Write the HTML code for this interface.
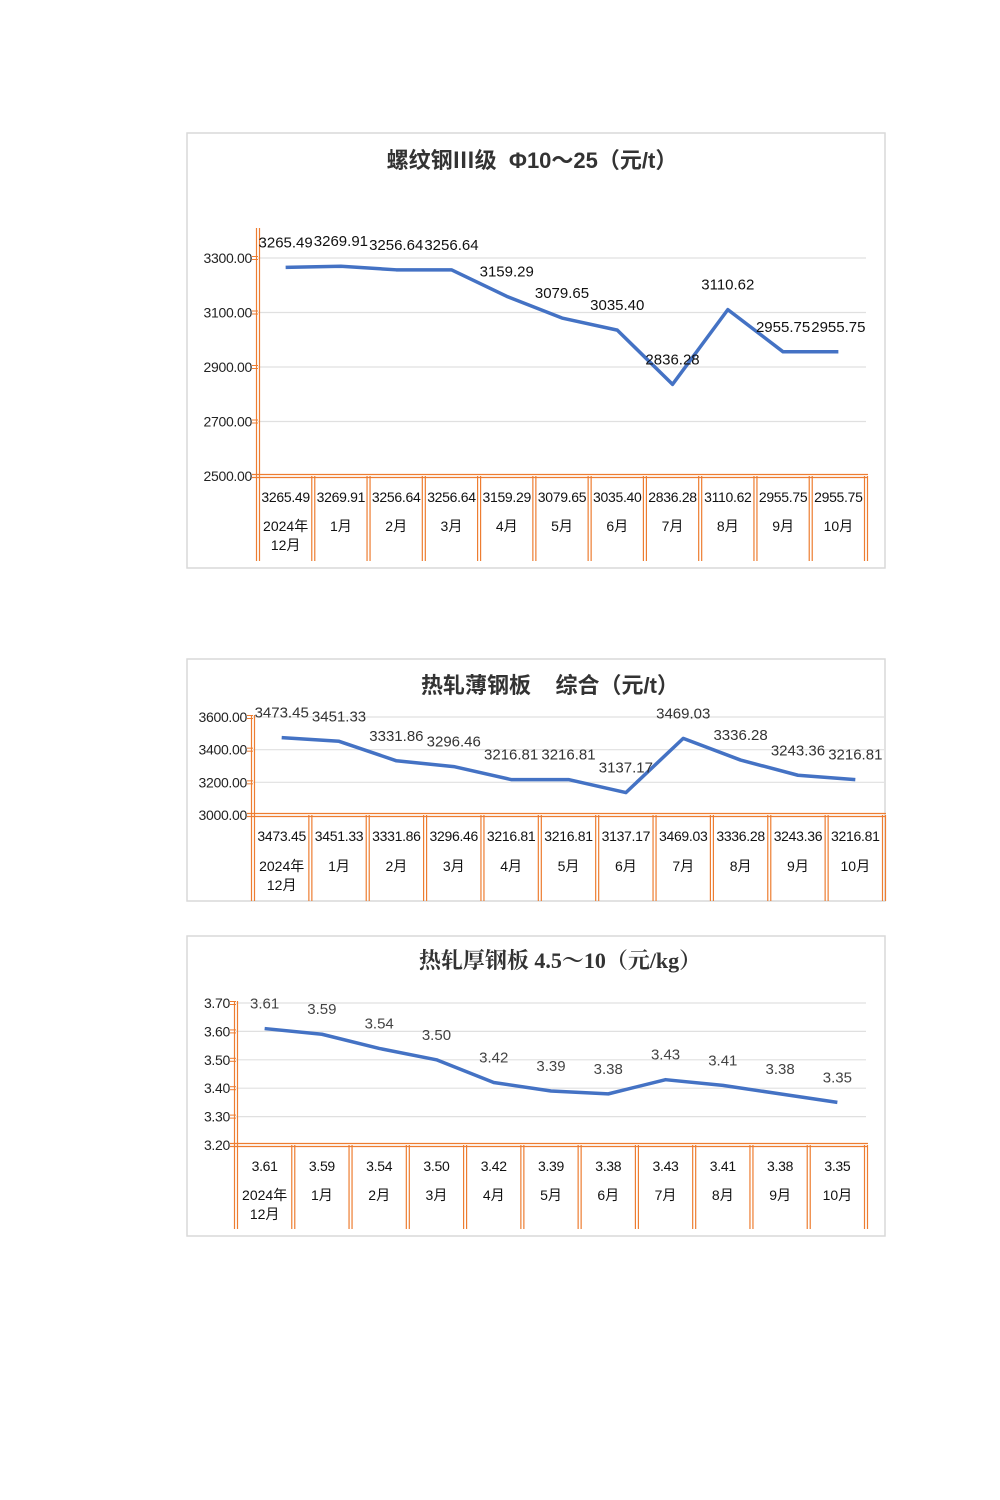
<!DOCTYPE html>
<html><head><meta charset="utf-8">
<style>
body{margin:0;background:#fff;width:1000px;height:1500px;overflow:hidden;font-family:"Liberation Sans","Noto Sans CJK SC",sans-serif;}
svg{position:absolute;left:0;top:0}
text{white-space:pre}
</style></head>
<body>
<svg id="s" width="1000" height="1500"></svg>
<script>
const categories=["2024年|12月","1月","2月","3月","4月","5月","6月","7月","8月","9月","10月"];
const rebarValues=[3265.49,3269.91,3256.64,3256.64,3159.29,3079.65,3035.40,2836.28,3110.62,2955.75,2955.75];
const rebarTicks=[2500,2700,2900,3100,3300];
const thinValues=[3473.45,3451.33,3331.86,3296.46,3216.81,3216.81,3137.17,3469.03,3336.28,3243.36,3216.81];
const thinTicks=[3000,3200,3400,3600];
const thickValues=[3.61,3.59,3.54,3.50,3.42,3.39,3.38,3.43,3.41,3.38,3.35];
const thickTicks=[3.20,3.30,3.40,3.50,3.60,3.70];

const NS="http://www.w3.org/2000/svg";
const S=document.getElementById('s');
const OR="#ED7D31";
function mk(t,a,p){const e=document.createElementNS(NS,t);for(const k in a)e.setAttribute(k,a[k]);(p||S).appendChild(e);return e;}
function chart(c){
  const g=mk('g',{});
  
  
  const fr=mk('rect',{x:c.fx,y:c.fy,width:c.fw,height:c.fh,fill:'#fff',stroke:'#d9d9d9','stroke-width':1.5},g);
  
  
  const t=mk('text',{x:c.tx,y:c.ty,'text-anchor':'middle','font-size':22,'font-weight':'bold',fill:'#333','font-family':c.tfont},g);
  t.textContent=c.title;
  
  
  const tmin=c.ticks[0],tmax=c.ticks[c.ticks.length-1];
  const Y=v=>c.yb-(v-tmin)/(tmax-tmin)*(c.yb-c.yt);
  const n=categories.length,cw=(c.xr-c.xl)/n;
  const X=i=>c.xl+cw*(i+0.5);
  c.ticks.forEach(v=>{
    const y=Y(v);
    if(v!==tmin){const gl=mk('line',{x1:c.xl,x2:c.xr,y1:y,y2:y,stroke:'#e0e0e0','stroke-width':1.2},g);
    }
    mk('line',{x1:c.xl-6,x2:c.xl,y1:y-1.5,y2:y-1.5,stroke:OR,'stroke-width':1},g);
    mk('line',{x1:c.xl-6,x2:c.xl,y1:y+1.5,y2:y+1.5,stroke:OR,'stroke-width':1},g);
    const tl=mk('text',{x:c.xl-6,y:y+5,'text-anchor':'end','font-size':14,'letter-spacing':-0.3,fill:'#222'},g);
    tl.textContent=v.toFixed(2);
    
  });
  const yb=Y(tmin);
  [yb-1.5,yb+1.5].forEach(y=>mk('line',{x1:c.xl-6,x2:c.xr+2,y1:y,y2:y,stroke:OR,'stroke-width':1.2},g));
  for(let i=0;i<=n;i++){
    const x=c.xl+cw*i, top=i===0?c.at:yb;
    mk('line',{x1:x-1.5,x2:x-1.5,y1:top,y2:c.tb,stroke:OR,'stroke-width':1.2},g);
    mk('line',{x1:x+1.5,x2:x+1.5,y1:top,y2:c.tb,stroke:OR,'stroke-width':1.2},g);
  }
  const vals=c.values;
  let d='';
  vals.forEach((v,i)=>{d+=(i?'L':'M')+X(i)+','+Y(v);});
  const ln=mk('path',{d:d,fill:'none',stroke:'#4472C4','stroke-width':3.5,'stroke-linejoin':'round'},g);
  
  vals.forEach((v,i)=>{
    const lb=mk('text',{x:X(i),y:Y(v)-20,'text-anchor':'middle','font-size':15,fill:c.lc},g);
    lb.textContent=v.toFixed(2);
    
    const tv=mk('text',{x:X(i),y:c.vy,'text-anchor':'middle','font-size':14,'letter-spacing':-0.3,fill:'#111'},g);
    tv.textContent=v.toFixed(2);
    
    const parts=categories[i].split('|');
    parts.forEach((p,k)=>{
      const cl=mk('text',{x:X(i),y:c.cy+k*19,'text-anchor':'middle','font-size':14,fill:'#111'},g);
      cl.textContent=p;
      
    });
  });
}
chart({name:'rebar-chart',fx:187,fy:133,fw:698,fh:435,tx:532,ty:168,title:'螺纹钢Ⅲ级  Φ10～25（元/t）',tfont:'"Liberation Sans","Noto Sans CJK SC",sans-serif',
  values:rebarValues,ticks:rebarTicks,xl:258,xr:866,yt:258,yb:476,at:228,tb:561,vy:502,cy:531,lc:'#111'});
chart({name:'thin-plate-chart',fx:187,fy:659,fw:698,fh:242,tx:550,ty:693,title:'热轧薄钢板    综合（元/t）',tfont:'"Liberation Sans","Noto Sans CJK SC",sans-serif',
  values:thinValues,ticks:thinTicks,xl:253,xr:884,yt:717,yb:815,at:715,tb:901,vy:841,cy:871,lc:'#333'});
chart({name:'thick-plate-chart',fx:187,fy:936,fw:698,fh:300,tx:560,ty:968,title:'热轧厚钢板 4.5～10（元/kg）',tfont:'"Liberation Serif","Noto Serif CJK SC",serif',
  values:thickValues,ticks:thickTicks,xl:236,xr:866,yt:1003,yb:1145,at:1001,tb:1229,vy:1171,cy:1200,lc:'#444'});
</script>
</body></html>
